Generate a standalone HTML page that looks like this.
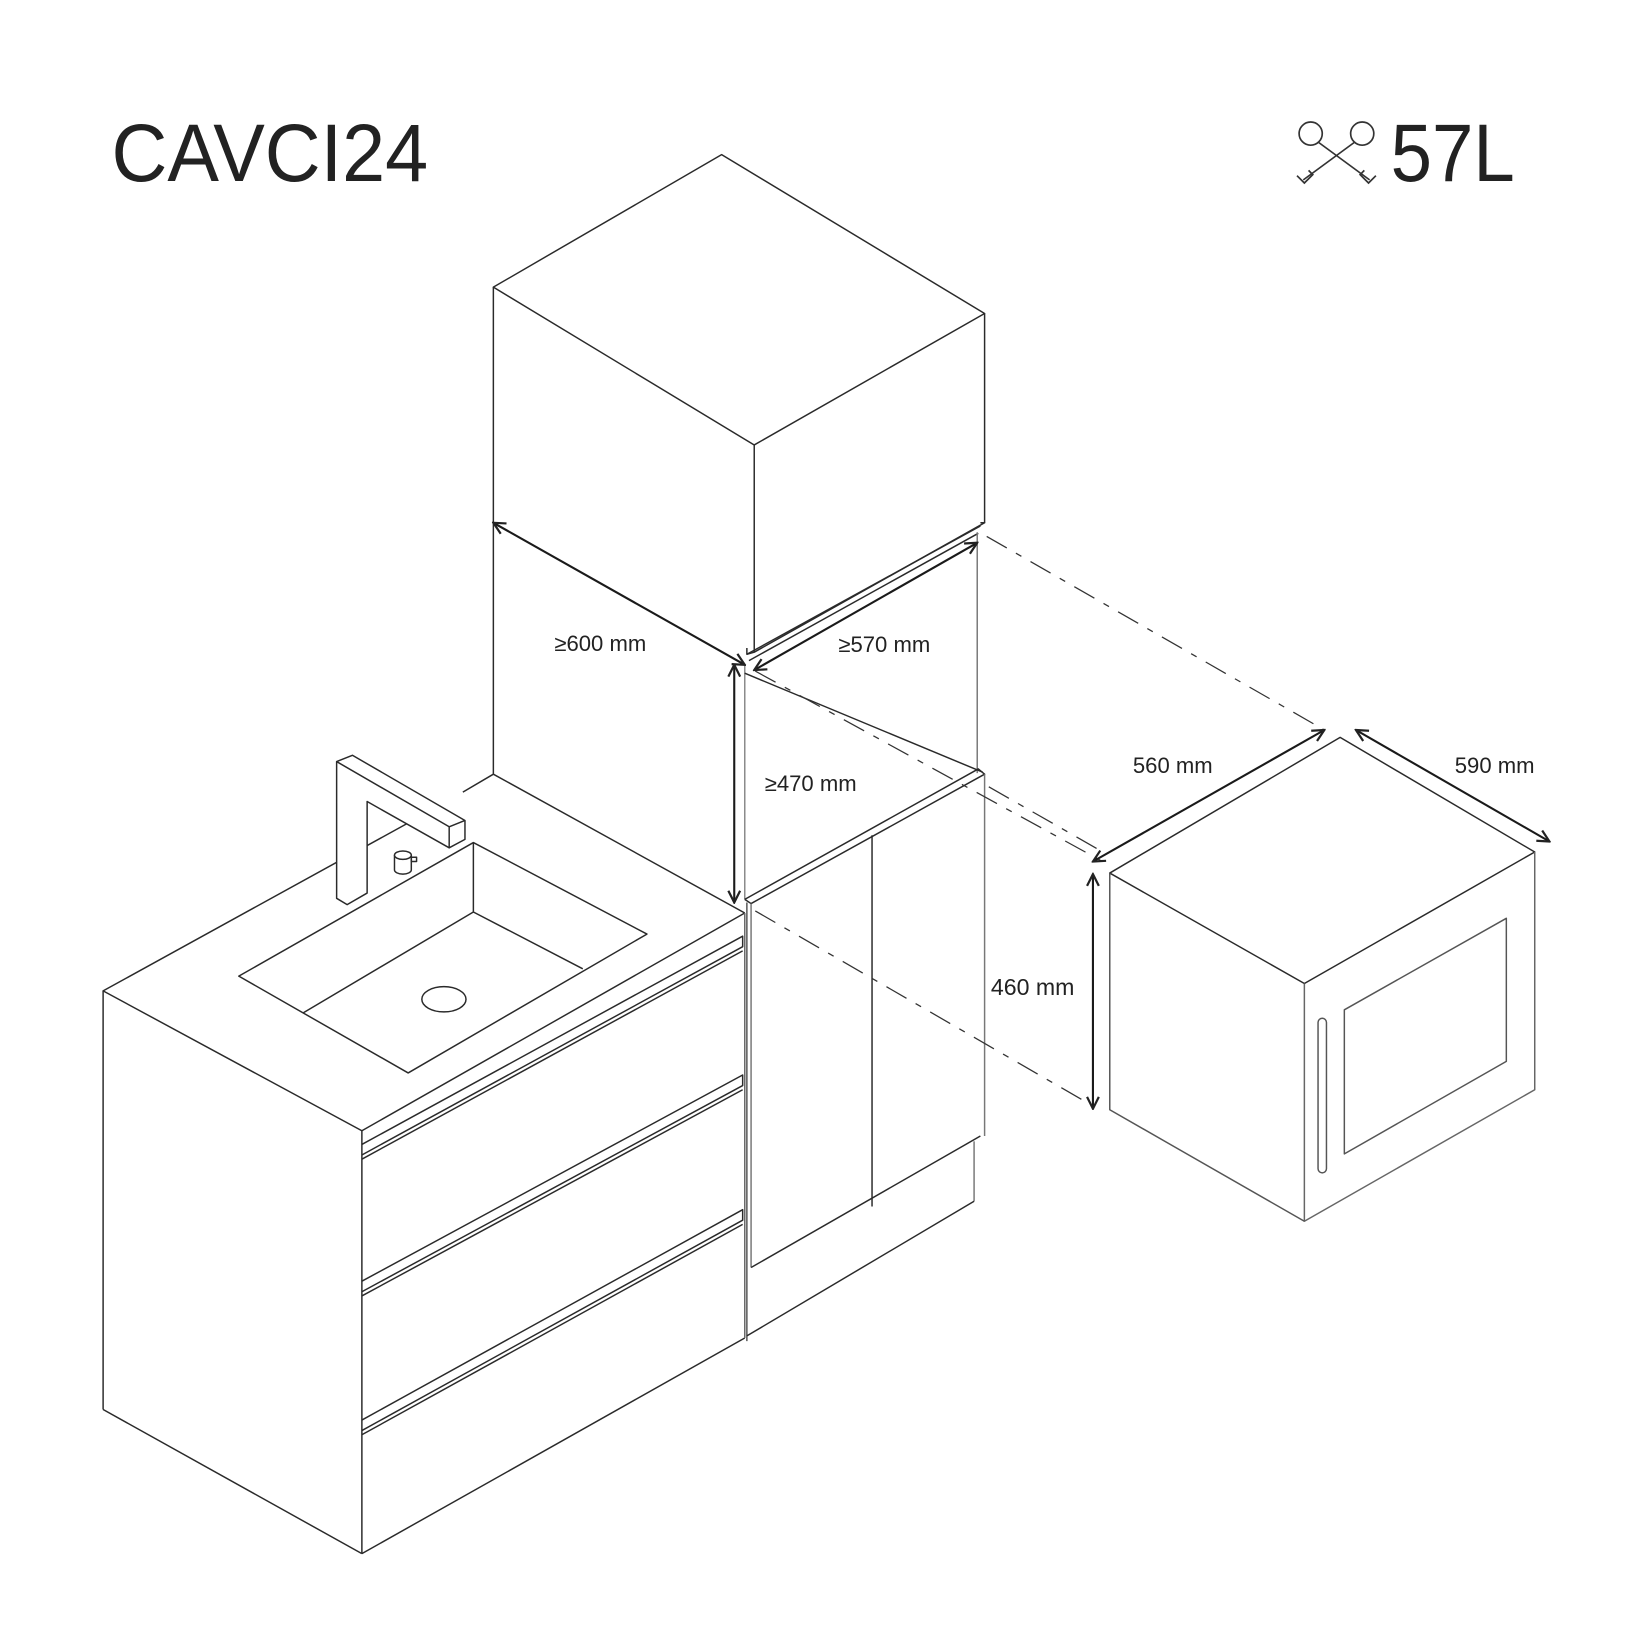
<!DOCTYPE html>
<html><head><meta charset="utf-8"><style>
html,body{margin:0;padding:0;background:#fff;}
svg{display:block;}
text{font-family:"Liberation Sans",sans-serif;fill:#222;}
</style></head><body>
<svg width="1641" height="1642" viewBox="0 0 1560 1561" xmlns="http://www.w3.org/2000/svg">
<defs>
<marker id="a" viewBox="0 0 10 10" refX="9" refY="5" markerWidth="7" markerHeight="7" orient="auto-start-reverse"><path d="M1,1 L9,5 L1,9" fill="none" stroke="#222" stroke-width="1.5"/></marker>
</defs>
<rect width="1560" height="1561" fill="#fff"/>
<text x="106" y="172" font-size="78" textLength="301" lengthAdjust="spacingAndGlyphs">CAVCI24</text>
<text x="1322" y="172" font-size="78" textLength="118" lengthAdjust="spacingAndGlyphs">57L</text>
<g fill="none" stroke="#333" stroke-width="1.6">
<circle cx="1246" cy="127" r="11"/><circle cx="1295" cy="127" r="11"/>
<line x1="1253" y1="135" x2="1302" y2="171"/><line x1="1288" y1="135" x2="1239" y2="171"/>
<polyline points="1233,167 1240,174 1248,166 1244,162"/><polyline points="1308,167 1301,174 1293,166 1297,162"/>
</g>
<g fill="none" stroke="#2a2a2a" stroke-width="1.4" stroke-linejoin="round">
<!-- upper box -->
<polygon points="469,273 686,147 936,298 717,423"/>
<line x1="469" y1="273" x2="469" y2="736"/>
<line x1="717" y1="423" x2="717" y2="620"/>
<line x1="936" y1="298" x2="936" y2="497"/>
<polyline points="710,616 710,622 717,620 936,497 932,497"/>
<line x1="710" y1="622" x2="932" y2="500"/>
<line x1="712" y1="628" x2="930" y2="507"/>
<line x1="929" y1="506" x2="929" y2="735" stroke="#777"/>
<line x1="708" y1="632" x2="708" y2="855" stroke="#888"/>
<line x1="710" y1="858" x2="710" y2="1275" stroke="#555"/>
<line x1="708" y1="640" x2="934" y2="734"/>
<!-- lower tall cabinet -->
<polyline points="708,855 930,731 936,736 714,859 708,855"/>
<line x1="714" y1="859" x2="714" y2="1205" stroke="#777"/>
<line x1="829" y1="794" x2="829" y2="1147"/>
<line x1="936" y1="736" x2="936" y2="1080" stroke="#777"/>
<line x1="714" y1="1205" x2="932" y2="1080"/>
<line x1="926" y1="1085" x2="926" y2="1142" stroke="#777"/>
<line x1="710" y1="1270" x2="926" y2="1142"/>
<!-- counter / vanity -->
<polyline points="469,736 708,868"/>
<polyline points="469,736 440,753"/>
<polyline points="405,773 98,942 344,1075 708,868"/>
<line x1="98" y1="942" x2="98" y2="1340"/>
<line x1="98" y1="1340" x2="344" y2="1477"/>
<line x1="344" y1="1075" x2="344" y2="1477"/>
<line x1="344" y1="1477" x2="708" y2="1272"/>
<line x1="708" y1="868" x2="708" y2="1272" stroke="#666"/>
<!-- drawer grooves -->
<polyline points="344,1088 706,890 706,900 344,1098"/>
<line x1="344" y1="1102" x2="706" y2="904"/>
<polyline points="344,1218 706,1022 706,1032 344,1228"/>
<line x1="344" y1="1232" x2="706" y2="1036"/>
<polyline points="344,1350 706,1150 706,1160 344,1360"/>
<line x1="344" y1="1364" x2="706" y2="1164"/>
<!-- sink -->
<polygon points="227,928 450,801 615,888 388,1020"/>
<polyline points="288,963 450,867 554,921"/>
<line x1="450" y1="801" x2="450" y2="867"/>
<ellipse cx="422" cy="950" rx="21" ry="12"/>
<!-- faucet -->
<polygon points="320,724 335,718 442,780 442,798 427,806 349,762 349,849 330,860 320,854" fill="#fff"/>
<polyline points="320,724 427,786 442,780"/>
<line x1="427" y1="786" x2="427" y2="806"/>
<path d="M375,813 v14 a8,4 0 0 0 16,0 v-14" fill="#fff"/>
<ellipse cx="383" cy="813" rx="8" ry="4" fill="#fff"/>
<rect x="391" y="815" width="5" height="4"/>
<!-- wine fridge -->
<polygon points="1055,830 1274,701 1459,810 1240,935"/>
<polyline points="1240,935 1240,1161 1459,1036 1459,810" stroke="#666"/>
<polyline points="1055,830 1055,1055 1240,1161" stroke="#555"/>
<polygon points="1278,960 1432,873 1432,1009 1278,1097" stroke="#555"/>
<rect x="1253" y="968" width="8" height="147" rx="4" stroke="#555"/>
</g>
<!-- dashed -->
<g stroke="#333" stroke-width="1.2" stroke-dasharray="22,10,6,10" fill="none">
<line x1="938" y1="510" x2="1259" y2="694"/>
<line x1="718" y1="638" x2="1050" y2="820"/>
<line x1="940" y1="748" x2="1052" y2="812"/>
<line x1="718" y1="866" x2="1040" y2="1052"/>
</g>
<!-- dimensions -->
<g stroke="#1a1a1a" stroke-width="2" fill="none" marker-start="url(#a)" marker-end="url(#a)">
<line x1="469" y1="497" x2="708" y2="632"/>
<line x1="717" y1="637" x2="929" y2="516"/>
<line x1="698" y1="632" x2="698" y2="858"/>
<line x1="1039" y1="819" x2="1259" y2="694"/>
<line x1="1289" y1="694" x2="1473" y2="800"/>
<line x1="1039" y1="831" x2="1039" y2="1054"/>
</g>
<g font-size="21">
<text x="527" y="619">≥600 mm</text>
<text x="797" y="620">≥570 mm</text>
<text x="727" y="752">≥470 mm</text>
<text x="1077" y="735">560 mm</text>
<text x="1383" y="735">590 mm</text>
<text x="942" y="946" font-size="22">460 mm</text>
</g>
</svg>
</body></html>
